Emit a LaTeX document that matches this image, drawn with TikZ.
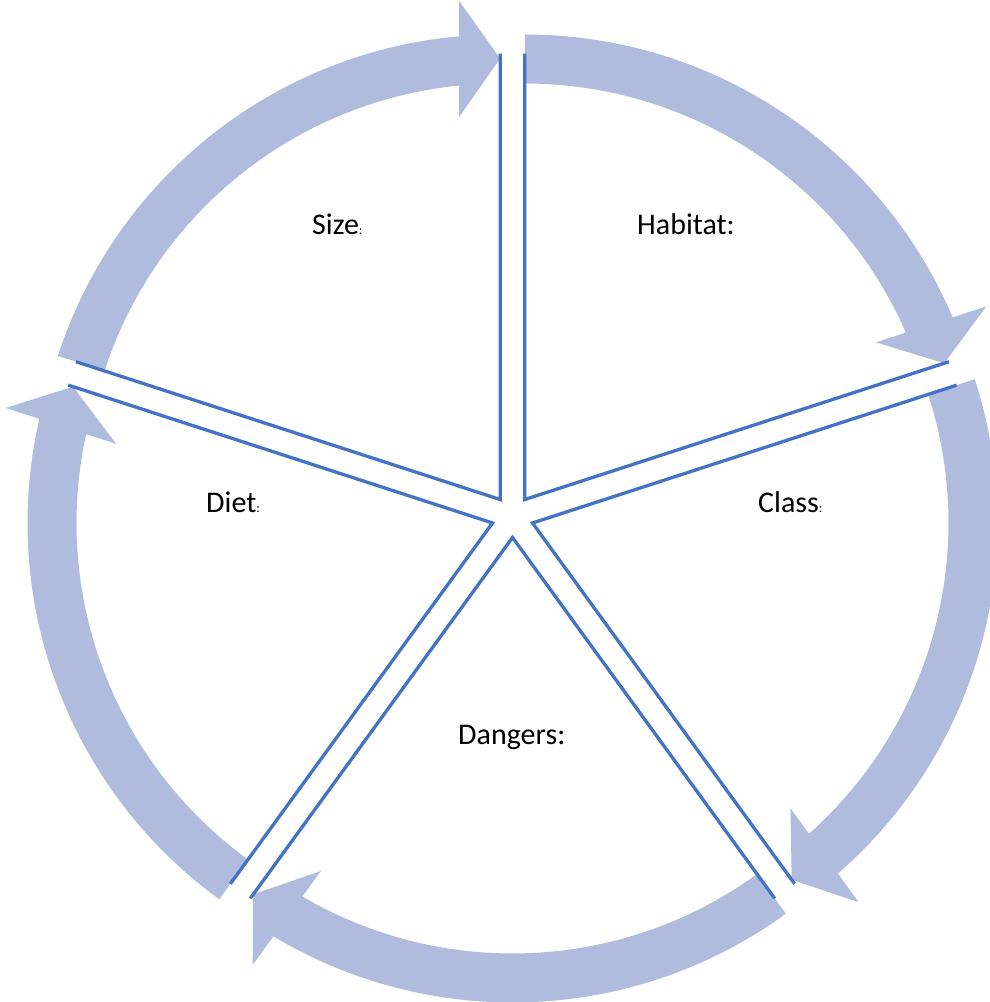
\documentclass[tikz,border=0pt]{standalone}
\usepackage{fontspec}
\setmainfont{Carlito}
\usetikzlibrary{calc}
\definecolor{wedgeblue}{RGB}{68,114,196}
\definecolor{arrowfill}{RGB}{176,188,222}
\tikzset{
  bandarrow/.style={fill=arrowfill, draw=none},
  wedgeline/.style={draw=wedgeblue, line width=3.3pt, line join=miter},
  lbl/.style={anchor=base west, inner sep=0pt, font=\fontsize{30}{36}\selectfont, text=black},
}
\newcommand{\smallcolon}{{\fontsize{13}{15}\selectfont :}}
\newcommand{\cyclearrowpath}{%
  (72:465) arc[start angle=72, end angle=5.06, radius=465]
  -- (498.5,41) -- (441,0) -- (382.5,41)
  -- (5.66:416) arc[start angle=5.66, end angle=72, radius=416] -- cycle}
\begin{document}
\begin{tikzpicture}[x=1pt, y=1pt]
\useasboundingbox (0,0) rectangle (990,1002);
\fill[white] (0,0) rectangle (990,1002);
\clip (0,0) rectangle (990,1002);
\coordinate (c) at (512.5,485.5);
\coordinate (vsize) at ($(c)+(126:21)$);
\coordinate (vhab)  at ($(c)+(54:21)$);
\coordinate (vcls)  at ($(c)+(-18:21)$);
\coordinate (vdng)  at ($(c)+(-90:21)$);
\coordinate (vdiet) at ($(c)+(198:21)$);
% arrows
\begin{scope}[shift={(vsize)}, rotate=90]
  \fill[bandarrow] \cyclearrowpath;
\end{scope}
\begin{scope}[shift={(vhab)}, rotate=18]
  \fill[bandarrow] \cyclearrowpath;
\end{scope}
\begin{scope}[shift={(vcls)}, rotate=-54]
  \fill[bandarrow] \cyclearrowpath;
\end{scope}
\begin{scope}[shift={(vdng)}, rotate=-126]
  \fill[bandarrow] \cyclearrowpath;
\end{scope}
\begin{scope}[shift={(vdiet)}, rotate=162]
  \fill[bandarrow] \cyclearrowpath;
\end{scope}
% wedges
\draw[wedgeline] ($(vsize)+(162:446)$) -- (vsize) -- ($(vsize)+(90:446)$);
\draw[wedgeline] ($(vhab)+(90:446)$) -- (vhab) -- ($(vhab)+(18:446)$);
\draw[wedgeline] ($(vcls)+(18:446)$) -- (vcls) -- ($(vcls)+(-54:446)$);
\draw[wedgeline] ($(vdng)+(-54:446)$) -- (vdng) -- ($(vdng)+(-126:446)$);
\draw[wedgeline] ($(vdiet)+(-126:446)$) -- (vdiet) -- ($(vdiet)+(162:446)$);
% labels
\node[lbl] (tsize) at (312,767) {Size\smallcolon};
\node[lbl] (thab) at (637,767) {Habitat:};
\node[lbl] (tdiet) at (206,489) {Diet\smallcolon};
\node[lbl] (tcls) at (758,489) {Class\smallcolon};
\node[lbl] (tdng) at (458,257) {Dangers:};
\end{tikzpicture}
\end{document}
